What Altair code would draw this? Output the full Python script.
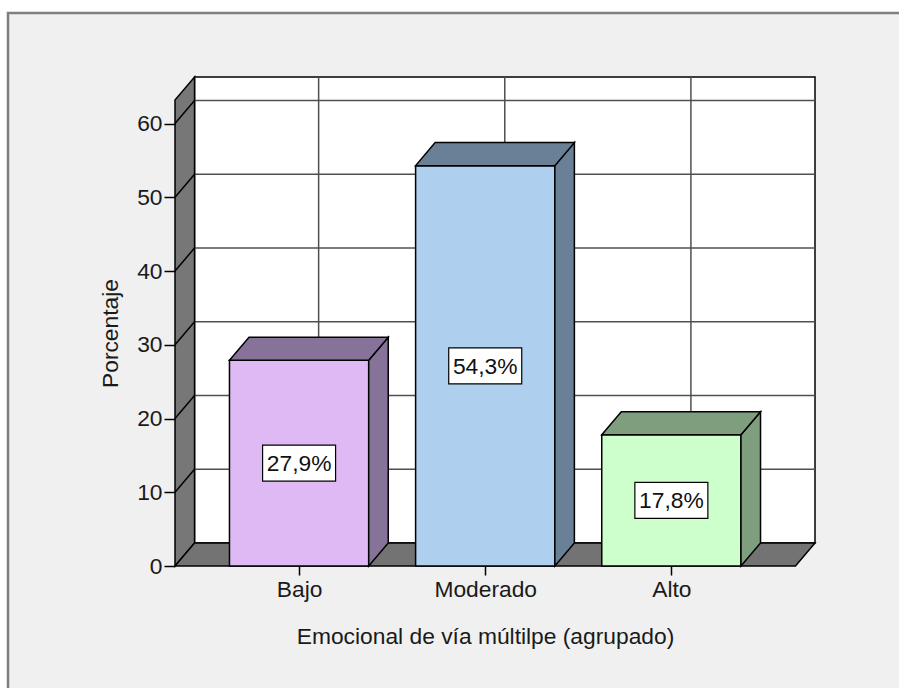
import json
import altair as alt
import pandas as pd

# ---- data -------------------------------------------------------------
categories = ["Bajo", "Moderado", "Alto"]
percentages = [27.9, 54.3, 17.8]
front_colors = ["#dfb9f3", "#aed0ee", "#ccffcc"]
shade_colors = ["#87729a", "#6a8096", "#7e9e7e"]
y_ticks = [0, 10, 20, 30, 40, 50, 60]
x_title = "Emocional de vía múltilpe (agrupado)"
y_title = "Porcentaje"

# ---- pseudo-3D geometry (data units) ------------------------------------
HALF_BAR = 0.374      # half width of a bar's front face (category units)
DX = 0.105            # depth shift along x
DY = 3.12             # depth shift along y (percent units)
X_LO, X_HI = -2 / 3, 8 / 3
WALL_TOP = 63.2
FONT = "Liberation Sans"
FS = 22.8

W, H = 640, 489
xs = alt.Scale(domain=[X_LO, X_HI + DX], nice=False, zero=False)
ys = alt.Scale(domain=[0, WALL_TOP + DY], nice=False, zero=False)

positions = list(range(len(categories)))

# one shared axis definition per channel, repeated in every layer
X_AXIS = alt.Axis(
    values=positions,
    labelExpr=f"{json.dumps(categories)}[datum.value]",
    title=x_title, domain=False, grid=False,
    tickSize=9, tickColor="black", tickWidth=1.5,
    labelFontSize=FS, labelColor="#1a1a1a", labelPadding=3, labelFont=FONT,
    titleFontSize=FS, titleFontWeight="normal", titleColor="#1a1a1a", titleFont=FONT,
    titleX=310, titleY=77, titleBaseline="alphabetic", titleAlign="center",
    zindex=1,
)
Y_AXIS = alt.Axis(
    values=y_ticks, title=y_title, domain=False, grid=False,
    tickSize=11, tickColor="black", tickWidth=1.5,
    labelFontSize=FS, labelColor="#1a1a1a", labelPadding=2, labelFont=FONT,
    titleFontSize=FS, titleFontWeight="normal", titleColor="#1a1a1a", titleFont=FONT,
    titleX=-58, titleY=256, titleAngle=-90, titleBaseline="alphabetic", titleAlign="center",
    zindex=1,
)


def X(field):
    return alt.X(field, scale=xs, axis=X_AXIS)


def Y(field):
    return alt.Y(field, scale=ys, axis=Y_AXIS)


bars = pd.DataFrame({
    "cat": categories,
    "pos": positions,
    "pct": percentages,
    "front": front_colors,
    "shade": shade_colors,
})
bars["x0"] = bars["pos"] - HALF_BAR
bars["x1"] = bars["pos"] + HALF_BAR
bars["base"] = 0.0
bars["mid"] = bars["pct"] / 2
bars["label"] = bars["pct"].map(lambda v: f"{v:.1f}%".replace(".", ","))


def poly(face, pts, fill):
    return [dict(face=face, x=x, lo=lo, hi=hi, fill=fill) for x, lo, hi in pts]


# side and top faces of every bar as parallelogram areas
faces = []
for r in bars.itertuples():
    v = r.pct
    faces += poly(f"{r.cat}-side", [(r.x1, 0, v), (r.x1 + DX, DY, v + DY)], r.shade)
    faces += poly(f"{r.cat}-top", [(r.x0, v, v), (r.x0 + DX, v, v + DY),
                                   (r.x1, v, v + DY), (r.x1 + DX, v + DY, v + DY)], r.shade)
faces = pd.DataFrame(faces)

# left wall and floor
walls = pd.DataFrame(
    poly("wall", [(X_LO, 0, WALL_TOP), (X_LO + DX, DY, WALL_TOP + DY)], "#777777")
    + poly("floor", [(X_LO, 0, 0), (X_LO + DX, 0, DY), (X_HI, 0, DY), (X_HI + DX, DY, DY)], "#737373")
)

grid_levels = pd.DataFrame({"v": [t for t in y_ticks if t > 0]})
grid_levels["vb"] = grid_levels["v"] + DY
grid_levels["xa"] = X_LO
grid_levels["xb"] = X_LO + DX
grid_levels["xc"] = X_HI + DX

grid_cols = pd.DataFrame({"xg": [p + DX for p in positions]})
grid_cols["y0"] = DY
grid_cols["y1"] = WALL_TOP + DY
back = pd.DataFrame({"x0": [X_LO + DX], "x1": [X_HI + DX], "y0": [DY], "y1": [WALL_TOP + DY]})
one = pd.DataFrame({"a": [0]})

# ---- layers -------------------------------------------------------------
frame = alt.Chart(one).mark_rect(
    fill="#f0f0f0", stroke="#7f7f7f", strokeWidth=2.5
).encode(x=alt.value(-167), x2=alt.value(760), y=alt.value(-64), y2=alt.value(640))

back_wall = alt.Chart(back).mark_rect(fill="white", stroke="black", strokeWidth=1.5).encode(
    x=X("x0:Q"), x2="x1:Q", y=Y("y0:Q"), y2="y1:Q",
)

h_grid = alt.Chart(grid_levels).mark_rule(color="#505050", strokeWidth=1.5).encode(
    x=X("xb:Q"), x2="xc:Q", y=Y("vb:Q"),
)
v_grid = alt.Chart(grid_cols).mark_rule(color="#505050", strokeWidth=1.5).encode(
    x=X("xg:Q"), y=Y("y0:Q"), y2="y1:Q",
)

wall_areas = alt.Chart(walls).mark_area(stroke="black", strokeWidth=1.5, opacity=1).encode(
    x=X("x:Q"), y=Y("lo:Q"), y2="hi:Q",
    fill=alt.Fill("fill:N", scale=None),
    detail="face:N",
)

wall_lines = alt.Chart(grid_levels).mark_rule(color="black", strokeWidth=1.5).encode(
    x=X("xa:Q"), x2="xb:Q", y=Y("v:Q"), y2="vb:Q",
)

bar_front = alt.Chart(bars).mark_rect(stroke="black", strokeWidth=1.5).encode(
    x=X("x0:Q"), x2="x1:Q", y=Y("pct:Q"), y2="base:Q",
    fill=alt.Fill("front:N", scale=None),
)

bar_faces = alt.Chart(faces).mark_area(stroke="black", strokeWidth=1.5, opacity=1).encode(
    x=X("x:Q"), y=Y("lo:Q"), y2="hi:Q",
    fill=alt.Fill("fill:N", scale=None),
    detail="face:N",
)

label_box = alt.Chart(bars).mark_point(
    shape="M-1,-0.493L1,-0.493L1,0.493L-1,0.493Z", size=73 * 73,
    filled=True, fill="white", stroke="black", strokeWidth=1.2, opacity=1,
).encode(x=X("pos:Q"), y=Y("mid:Q"))

label_text = alt.Chart(bars).mark_text(
    fontSize=FS, font=FONT, color="#111", baseline="middle", align="center", dy=1
).encode(x=X("pos:Q"), y=Y("mid:Q"), text="label:N")

chart = alt.layer(
    frame, back_wall, h_grid, v_grid, wall_areas, wall_lines,
    bar_front, bar_faces, label_box, label_text,
).properties(
    width=W, height=H,
    autosize=alt.AutoSizeParams(type="none"),
    padding={"left": 175, "top": 77, "right": 84, "bottom": 122},
    background="white",
).configure_view(stroke=None).configure(font=FONT)

chart.save("out.html", embed_options={"renderer": "svg", "actions": False})
